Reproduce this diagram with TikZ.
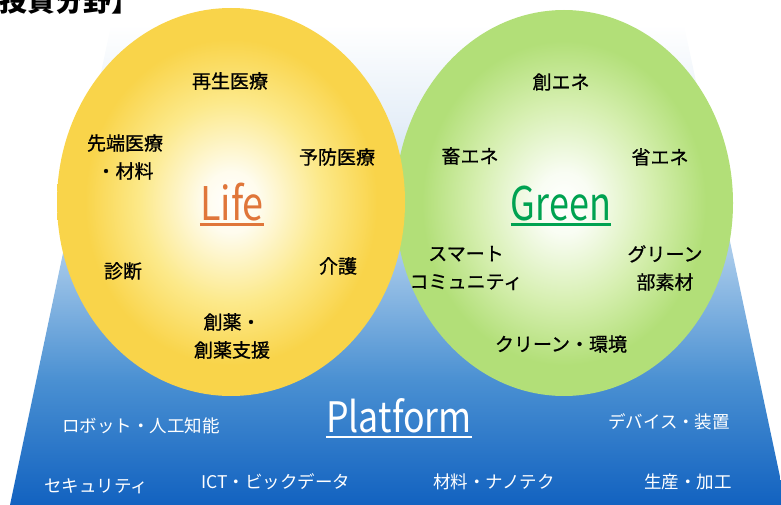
\documentclass[tikz,border=0pt]{standalone}
\usepackage{fontspec}
\usepackage{graphicx}
\setmainfont{Noto Sans CJK JP}
\newfontfamily\jpmed{Noto Sans CJK JP}[FakeBold=0.8]
\definecolor{bluedark}{HTML}{1262C0}
\definecolor{bluemid}{HTML}{4A90D2}
\definecolor{bluelight}{HTML}{A6C9EA}
\definecolor{bluepale}{HTML}{E6EFF8}
\definecolor{lifeedge}{HTML}{F9D44A}
\definecolor{lifemid}{HTML}{FCE98A}
\definecolor{greenedge}{HTML}{B2DF78}
\definecolor{greenmid}{HTML}{D6EFB0}
\definecolor{lifetext}{HTML}{E0763A}
\definecolor{greentext}{HTML}{00A251}
\pgfdeclareverticalshading{platshade}{100bp}{color(0bp)=(bluedark); color(25bp)=(bluedark); color(38bp)=(bluemid); color(51bp)=(bluelight); color(65bp)=(bluepale); color(75bp)=(white); color(100bp)=(white)}
\pgfdeclareradialshading{lifeshade}{\pgfpoint{0bp}{0bp}}{color(0bp)=(white); color(4bp)=(white!85!lifemid); color(13bp)=(lifemid); color(21bp)=(lifeedge); color(25bp)=(lifeedge); color(50bp)=(lifeedge)}
\pgfdeclareradialshading{greenshade}{\pgfpoint{0bp}{0bp}}{color(0bp)=(white); color(4bp)=(white!85!greenmid); color(13bp)=(greenmid); color(21bp)=(greenedge); color(25bp)=(greenedge); color(50bp)=(greenedge)}
\tikzset{
  lab/.style={font=\jpmed\fontsize{19}{28}\selectfont, align=center, inner sep=0pt, text=black},
  wlab/.style={font=\fontsize{17.5}{24}\selectfont, inner sep=0pt, text=white},
  big/.style={inner sep=0pt, font=\fontsize{45}{45}\selectfont},
}
\begin{document}
\begin{tikzpicture}[x=1pt,y=-1pt]
\useasboundingbox (0,0) rectangle (781,505);
\clip (0,0) rectangle (781,505);
% platform trapezoid
\shade[shading=platshade] (111,25) -- (684,25) -- (786,505) -- (10,505) -- cycle;
% circles
\shade[shading=greenshade] (564,203) ellipse [x radius=169pt, y radius=193pt];
\shade[shading=lifeshade] (231,202) ellipse [x radius=174pt, y radius=194pt];
% title
\node[anchor=base west, inner sep=0pt, font=\bfseries\fontsize{28}{28}\selectfont] (title) at (-1,12) {投資分野】};
% Life labels
\node[lab] (saisei) at (230,81) {再生医療};
\node[lab] (sentan) at (125,157) {先端医療\\・材料};
\node[lab] (yobou) at (337,157) {予防医療};
\node[lab] (shindan) at (123,271) {診断};
\node[lab] (kaigo) at (338,266) {介護};
\node[lab] (souyaku) at (232,336) {創薬・\\創薬支援};
% Green labels
\node[lab] (soene) at (561,82) {創エネ};
\node[lab] (chikuene) at (470,156) {畜エネ};
\node[lab] (shouene) at (660,157) {省エネ};
\node[lab] (smart) at (466,268) {スマート\\コミュニティ};
\node[lab] (greenbu) at (665,268) {グリーン\\部素材};
\node[lab] (clean) at (561,344) {クリーン・環境};
% centre words
\node[big, anchor=base, text=lifetext] (life) at (232,220) {\scalebox{0.84}[1.03]{Life}};
\draw[lifetext, line width=3pt] ([yshift=-4.5pt]life.base west) -- ([yshift=-4.5pt]life.base east);
\node[big, anchor=base, text=greentext] (green) at (561,220) {\scalebox{0.8}[1.03]{Green}};
\draw[greentext, line width=3pt] ([yshift=-4pt]green.base west) -- ([yshift=-4pt]green.base east);
\node[inner sep=0pt, anchor=base, text=white, font=\fontsize{42}{42}\selectfont] (plat) at (399,432) {\scalebox{0.85}[1]{Platform}};
\draw[white, line width=2pt] ([yshift=-4.5pt]plat.base west) -- ([yshift=-4.5pt]plat.base east);
% platform labels
\node[wlab] (robot) at (141,426) {ロボット・人工知能};
\node[wlab] (device) at (669,422) {デバイス・装置};
\node[wlab] (security) at (96,486) {セキュリティ};
\node[wlab] (ict) at (276,482) {ICT・ビックデータ};
\node[wlab] (nano) at (494,482) {材料・ナノテク};
\node[wlab] (seisan) at (688,482) {生産・加工};
\end{tikzpicture}
\end{document}
